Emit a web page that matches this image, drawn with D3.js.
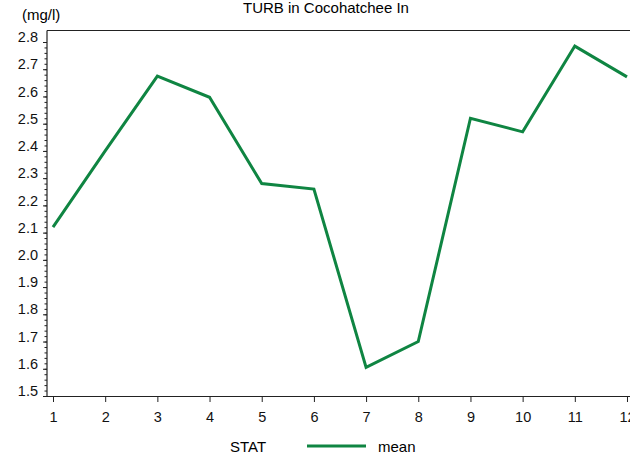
<!DOCTYPE html>
<html>
<head>
<meta charset="utf-8">
<script src="https://cdn.jsdelivr.net/npm/d3@7"></script>
<style>
  body { margin: 0; background: #fff; }
  svg { display: block; font-family: "Liberation Sans", Arial, sans-serif; }
  .axis path, .axis line { stroke: #222; }
  .axis text { fill: #111; font-size: 14.5px; }
</style>
</head>
<body>
<div id="chart"></div>
<script>
const width = 630;
const height = 457;

// data
const months = [1, 2, 3, 4, 5, 6, 7, 8, 9, 10, 11, 12];
const meanTurb = [2.12, 2.40, 2.675, 2.597, 2.28, 2.26, 1.605, 1.70, 2.52, 2.47, 2.785, 2.672];
const yTicks = [1.5, 1.6, 1.7, 1.8, 1.9, 2.0, 2.1, 2.2, 2.3, 2.4, 2.5, 2.6, 2.7, 2.8];
const seriesName = "mean";
const legendTitle = "STAT";
const title = "TURB in Cocohatchee In";
const unitLabel = "(mg/l)";

const plotLeft = 47, plotTop = 30.5, plotBottom = 396, plotRight = 633;

const x = d3.scaleLinear()
    .domain([0.885, 12.115])
    .range([plotLeft, plotRight]);

const y = d3.scaleLinear()
    .domain([1.5, 2.8])
    .range([plotBottom, 42]);

const svg = d3.select("#chart").append("svg")
    .attr("width", width)
    .attr("height", height);

// frame top line
svg.append("line")
    .attr("x1", plotLeft).attr("x2", plotRight)
    .attr("y1", plotTop).attr("y2", plotTop)
    .attr("stroke", "#222").attr("stroke-width", 1.2);

// minor y ticks
const minor = d3.range(150, 281, 2).map(d => d / 100);
svg.append("g")
    .attr("class", "axis")
    .attr("transform", `translate(${plotLeft},0)`)
    .call(d3.axisLeft(y).tickValues(minor).tickSize(2.5).tickFormat(""))
    .call(g => g.select(".domain").remove());

// major y ticks
const yAxis = svg.append("g")
    .attr("class", "axis")
    .attr("transform", `translate(${plotLeft},0)`)
    .call(d3.axisLeft(y).tickValues(yTicks).tickSize(4).tickPadding(5).tickFormat(d3.format(".1f")));
yAxis.select(".domain").remove();
yAxis.selectAll("text").attr("transform", "translate(0,-5)");

// left axis line, full height
svg.append("line")
    .attr("x1", plotLeft).attr("x2", plotLeft)
    .attr("y1", plotTop).attr("y2", plotBottom)
    .attr("stroke", "#222").attr("stroke-width", 1.2);

// x axis
const xAxis = svg.append("g")
    .attr("class", "axis")
    .attr("transform", `translate(0,${plotBottom})`)
    .call(d3.axisBottom(x).tickValues(months).tickSize(6).tickPadding(10).tickFormat(d3.format("d")));
xAxis.select(".domain").attr("d", `M${plotLeft},0.5H${plotRight}`).attr("stroke-width", 1.2);

// line
const line = d3.line()
    .x((d, i) => x(months[i]))
    .y(d => y(d));

svg.append("path")
    .datum(meanTurb)
    .attr("fill", "none")
    .attr("stroke", "#0f8542")
    .attr("stroke-width", 3)
    .attr("stroke-linejoin", "miter")
    .attr("d", line);

// title and unit
svg.append("text")
    .attr("x", 326).attr("y", 13)
    .attr("text-anchor", "middle")
    .attr("font-size", 15)
    .text(title);

svg.append("text")
    .attr("x", 22).attr("y", 20)
    .attr("font-size", 15)
    .text(unitLabel);

// legend
svg.append("text")
    .attr("x", 230).attr("y", 452)
    .attr("font-size", 15)
    .text(legendTitle);

svg.append("line")
    .attr("x1", 307).attr("x2", 366)
    .attr("y1", 446).attr("y2", 446)
    .attr("stroke", "#0f8542").attr("stroke-width", 3);

svg.append("text")
    .attr("x", 378).attr("y", 452)
    .attr("font-size", 15)
    .text(seriesName);
</script>
</body>
</html>
